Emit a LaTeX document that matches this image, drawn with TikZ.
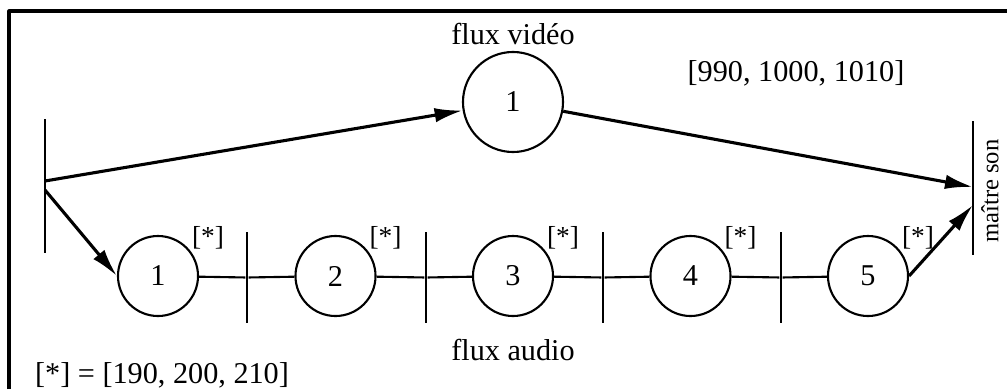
\documentclass[tikz,border=0pt]{standalone}
\usepackage{fontspec}
\setmainfont{Liberation Serif}
\usetikzlibrary{arrows.meta}
\begin{document}
\begin{tikzpicture}[x=0.025cm,y=-0.025cm,line join=round,
  >={Latex[length=0.7cm,width=0.36cm]},
  font=\fontsize{21.5}{26}\selectfont,
  place/.style={draw,circle,line width=1.5pt,inner sep=0pt,minimum size=2cm},
  bar/.style={fill=black,inner sep=0pt,minimum width=2pt,minimum height=2.28cm},
  arc/.style={->,line width=2.2pt},
  link/.style={line width=1.5pt}]
\useasboundingbox (0,0) rectangle (1007,389);
\draw[line width=2.2pt] (9,389) -- (9,11) -- (1007,11);
% barres de debut et de fin
\node[bar,minimum height=3.35cm] (debut) at (45,186) {};
\node[bar,minimum height=3.35cm] (fin) at (973,188) {};
\path (45,181) coordinate (dv) (45,190) coordinate (da)
      (973,187) coordinate (fv) (973,205) coordinate (fa);
\node[rotate=90,font=\fontsize{17.5}{21}\selectfont] (son) at (990,191) {maître son};
% flux video
\node[place,minimum size=2.5cm] (v1) at (513,102) {1};
\node (fluxv) at (513,34) {flux vidéo};
\draw[arc] (dv) -- (v1);
\draw[arc] (v1) -- (fv);
\node (dv1) at (796,73) {[990, 1000, 1010]};
% flux audio
\foreach \i/\x in {1/158,2/335.5,3/513,4/690.5,5/868}
  {\node[place] (a\i) at (\x,276) {\i};
   \node[font=\fontsize{19.5}{23}\selectfont] (e\i) at ([shift={(50,-38)}]a\i) {[*]};}
\foreach \i/\j/\x in {1/2/247,2/3/426,3/4/603,4/5/781}
  {\node[bar] (t\i) at (\x,277.5) {};
   \draw[link] (a\i) -- (t\i) -- (a\j);}
\draw[arc] (da) -- (a1.west);
\draw[arc] (a5.east) -- (fa);
\node (fluxa) at (513,350) {flux audio};
\node (def) at (162,375) {[*] = [190, 200, 210]};
\end{tikzpicture}
\end{document}
